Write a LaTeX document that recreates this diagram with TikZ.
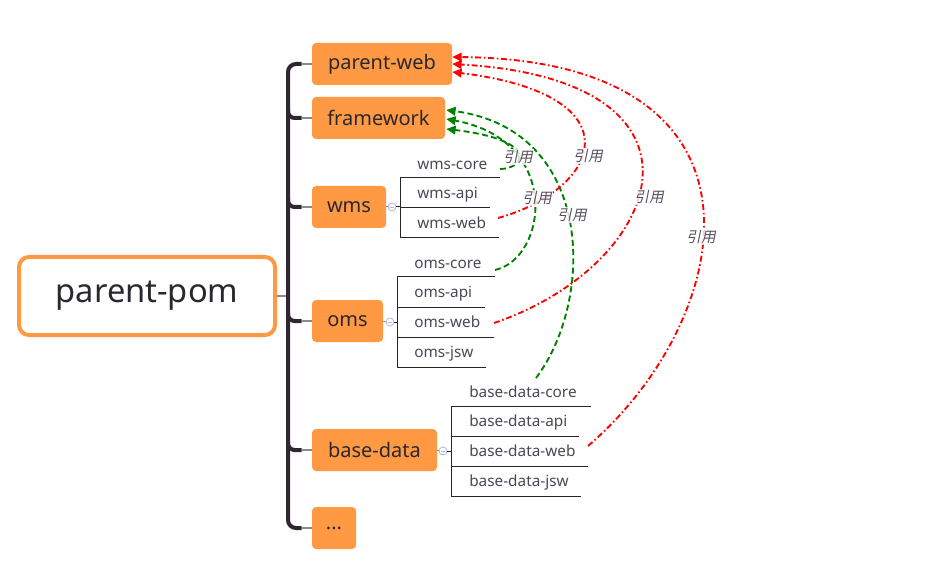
\documentclass[tikz,border=0pt]{standalone}
\usepackage{fontspec}
\setmainfont{Noto Sans}
\newfontfamily\cjk[FakeSlant=0.2]{Noto Sans CJK SC}
\usetikzlibrary{arrows.meta}
\definecolor{boxor}{HTML}{FF9944}
\definecolor{boxtxt}{HTML}{2B2730}
\definecolor{trunkc}{HTML}{2F2631}
\definecolor{branchc}{HTML}{8C8790}
\definecolor{itemtxt}{HTML}{4D4555}
\definecolor{lblc}{HTML}{5A5060}
\definecolor{iconc}{HTML}{A8B8E0}
\definecolor{refred}{HTML}{FF0000}
\definecolor{refgreen}{HTML}{008000}
\begin{document}
\begin{tikzpicture}[x=0.75pt,y=-0.75pt,
  topic/.style={fill=boxor, rounded corners=3pt, minimum height=31.5pt, inner sep=0pt,
     text=boxtxt, font=\fontsize{15}{18}\selectfont},
  root/.style={draw=boxor, line width=3pt, fill=white, rounded corners=7.5pt,
     minimum width=192pt, minimum height=58.5pt, inner sep=0pt,
     text=boxtxt, font=\fontsize{24.5}{28}\selectfont},
  item/.style={anchor=base west, inner sep=0pt, text=itemtxt, font=\fontsize{11.5}{14}\selectfont},
  trunkline/.style={draw=trunkc, line width=3pt},
  branchline/.style={draw=branchc, line width=1.5pt},
  listline/.style={draw=black!85, line width=0.75pt},
  icon/.style={circle, draw=iconc, fill=white, line width=0.6pt, minimum size=6pt, inner sep=0pt},
  greenref/.style={draw=refgreen, line width=1.4pt, dash pattern=on 4.5pt off 2.5pt,
     -{Triangle[length=7pt,width=6.5pt]}, refgreen},
  redref/.style={draw=refred, line width=1.4pt, dash pattern=on 4.5pt off 2pt on 1.2pt off 2pt,
     -{Triangle[length=7pt,width=6.5pt]}, refred},
  reflabel/.style={text=lblc, font=\cjk\fontsize{11}{13}\selectfont, inner sep=1pt,
     fill=white, fill opacity=0.8, text opacity=1}
]
\useasboundingbox (0,0) rectangle (930,566);

% root and topics
\node[root] (pp) at (147,296) {parent-pom};
\node[topic, minimum width=105pt] (pw) at (382,64) {parent-web};
\node[topic, minimum width=99.75pt] (fw) at (378.5,118) {framework};
\node[topic, minimum width=55.5pt] (wms) at (349,207) {wms};
\node[topic, minimum width=53.25pt] (oms) at (347.5,321) {oms};
\node[topic, minimum width=93.75pt] (bd) at (374.5,450) {base-data};
\node[topic, minimum width=33pt] (dots) at (334,528) {...};

\coordinate (tx) at (288,296);

% trunk
\draw[branchline] (pp.east) -- (pp.east -| tx);
\draw[trunkline, rounded corners=6pt] ([xshift=-7.5pt]pw.west) -| (dots.west -| tx) -- ([xshift=-7.5pt]dots.west);
\foreach \b in {fw,wms,oms,bd}{
  \draw[trunkline, rounded corners=5pt] ([yshift=6pt]\b.west -| tx) |- ([xshift=-7.5pt]\b.west);
}
\foreach \b in {pw,fw,wms,oms,bd,dots}{
  \draw[branchline] ([xshift=-7.5pt]\b.west) -- (\b.west);
}

% wms list
\node[icon] (wi) at (392,207) {};
\draw[draw=iconc, line width=0.6pt] ([xshift=-1.6pt]wi.center) -- ([xshift=1.6pt]wi.center);
\draw[branchline, line width=0.75pt] (wms.east) -- (wi.west);
\draw[listline] (wi.east) -- (400,207);
\draw[listline] (400,178) -- (400,238);
\draw[listline] (400,178) -- (500,178);
\draw[listline] (400,208) -- (490,208);
\draw[listline] (400,238) -- (499,238);
\node[item] (wcore) at (417,169.5) {wms-core};
\node[item] (wapi) at (417,198.5) {wms-api};
\node[item] (wweb) at (417,228.5) {wms-web};

% oms list
\node[icon] (oi) at (390,322) {};
\draw[draw=iconc, line width=0.6pt] ([xshift=-1.6pt]oi.center) -- ([xshift=1.6pt]oi.center);
\draw[branchline, line width=0.75pt] (oms.east) -- (oi.west);
\draw[listline] (oi.east) -- (397,322);
\draw[listline] (397,277) -- (397,367);
\draw[listline] (397,277) -- (495,277);
\draw[listline] (397,307) -- (485,307);
\draw[listline] (397,337) -- (494,337);
\draw[listline] (397,367) -- (486,367);
\node[item] (ocore) at (414,268.5) {oms-core};
\node[item] (oapi) at (414,297.5) {oms-api};
\node[item] (oweb) at (414,327.5) {oms-web};
\node[item] (ojsw) at (414,357.5) {oms-jsw};

% base-data list
\node[icon] (bi) at (443,451) {};
\draw[draw=iconc, line width=0.6pt] ([xshift=-1.6pt]bi.center) -- ([xshift=1.6pt]bi.center);
\draw[branchline, line width=0.75pt] (bd.east) -- (bi.west);
\draw[listline] (bi.east) -- (451,451);
\draw[listline] (451,406) -- (451,496);
\draw[listline] (451,406) -- (591,406);
\draw[listline] (451,436) -- (579,436);
\draw[listline] (451,466) -- (588,466);
\draw[listline] (451,496) -- (581,496);
\node[item] (bcore) at (469,397.5) {base-data-core};
\node[item] (bapi) at (469,426.5) {base-data-api};
\node[item] (bweb) at (469,456.5) {base-data-web};
\node[item] (bjsw) at (469,486.5) {base-data-jsw};

% connector start points
\coordinate (wcS) at (500,169);
\coordinate (wwS) at (498,218);
\coordinate (ocS) at (495,270);
\coordinate (owS) at (494,323);
\coordinate (bcS) at (536,378);
\coordinate (bwS) at (588,446);

% green references -> framework
\draw[greenref] (wcS) .. controls (525,169) and (540,140) .. ([xshift=0.75pt,yshift=-8.25pt]fw.east);
\draw[greenref] (ocS) .. controls (548,258) and (562,140) .. ([xshift=0.75pt,yshift=-0.75pt]fw.east);
\draw[greenref] (bcS) .. controls (595,300) and (595,130) .. ([xshift=0.75pt,yshift=6pt]fw.east);

% red references -> parent-web
\draw[redref] (wwS) .. controls (600,190) and (640,95) .. ([yshift=-6pt]pw.east);
\draw[redref] (owS) .. controls (665,265) and (730,80) .. (pw.east);
\draw[redref] (bwS) .. controls (735,320) and (790,60) .. ([yshift=5.25pt]pw.east);

% labels
\node[reflabel] (l1) at (518,157) {引用};
\node[reflabel] (l2) at (588,156) {引用};
\node[reflabel] (l3) at (537,198) {引用};
\node[reflabel] (l4) at (572,215) {引用};
\node[reflabel] (l5) at (649,197) {引用};
\node[reflabel] (l6) at (701,237) {引用};
\end{tikzpicture}
\end{document}
